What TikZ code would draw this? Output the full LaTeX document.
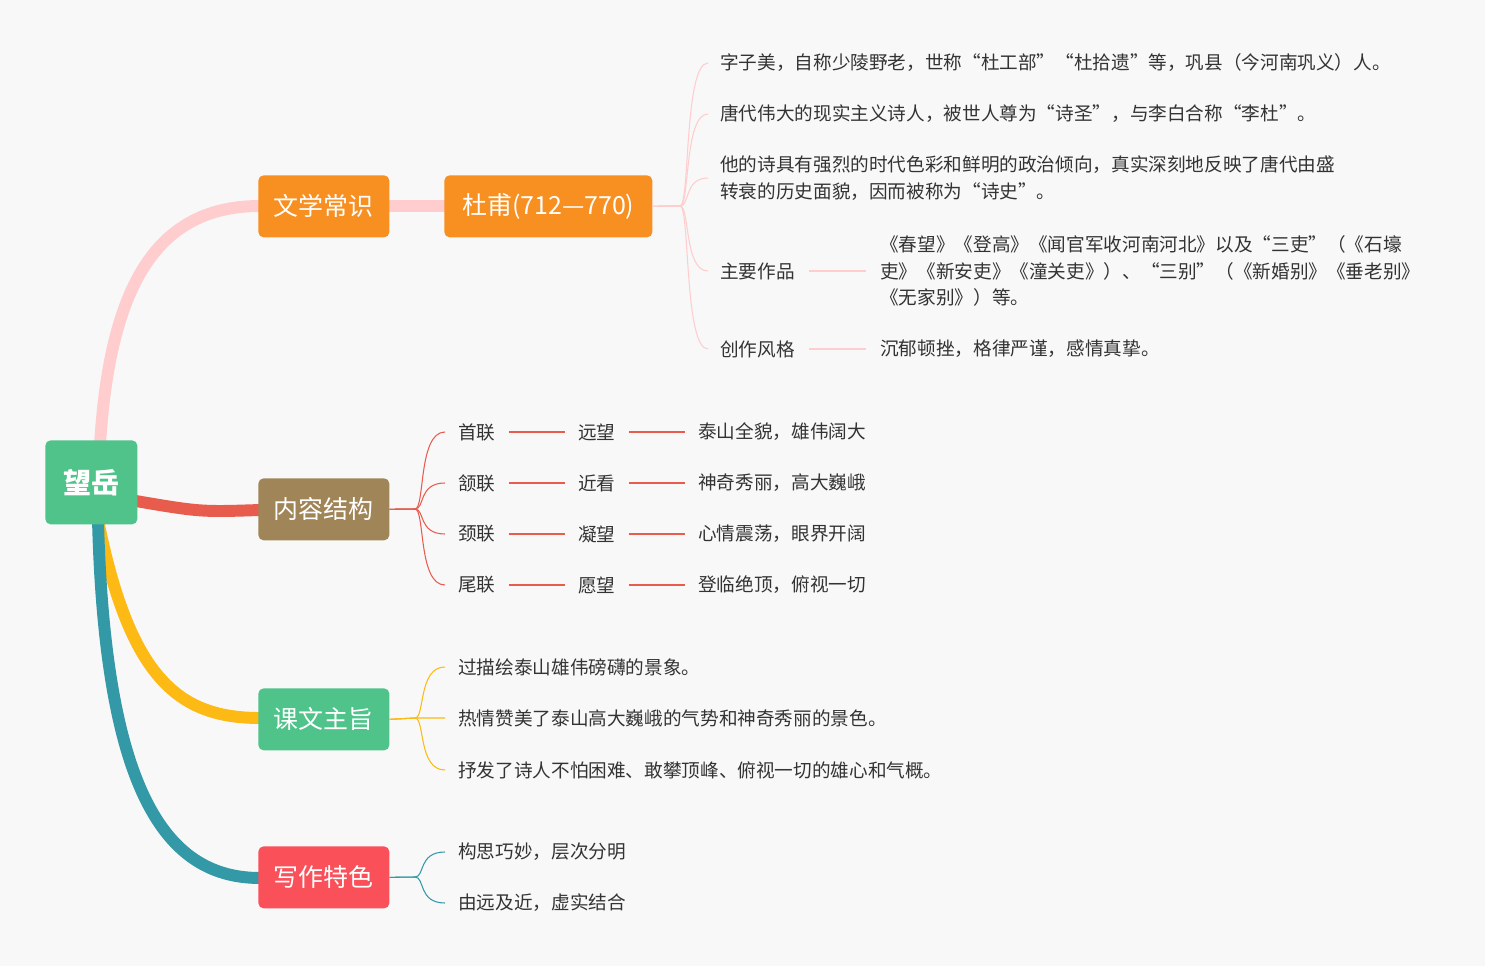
\documentclass[tikz,border=0pt]{standalone}
\usepackage{fontspec}
\setmainfont{Noto Sans CJK SC}
\begin{document}
\begin{tikzpicture}[x=0.02cm,y=-0.02cm,
  box/.style={rounded corners=3pt,text=white,font=\fontsize{14.2}{16}\selectfont,inner sep=0pt,anchor=north west},
  leaf/.style={anchor=west,inner sep=0pt,text=black!80,font=\fontsize{10.6}{15.3}\selectfont,align=left},
  thin/.style={line width=0.6pt},
  thick/.style={line width=6.8pt}]
\definecolor{bg}{HTML}{F8F8F8}
\definecolor{pinkc}{HTML}{FFCDCD}
\definecolor{orangec}{HTML}{F78F21}
\definecolor{brownc}{HTML}{A08558}
\definecolor{greenc}{HTML}{50C38B}
\definecolor{redc}{HTML}{FA505A}
\definecolor{redl}{HTML}{E85C4E}
\definecolor{yelc}{HTML}{FDB914}
\definecolor{tealc}{HTML}{3499A6}
\fill[bg] (0,0) rectangle (1485,966);
\useasboundingbox (0,0) rectangle (1485,966);
% main connectors
\coordinate (rt) at (100,445);
\coordinate (rb) at (98,520);
\draw[thick,pinkc] (rt) .. controls (110,280) and (160,206) .. (260,206);
\draw[thick,redl] (130,500) .. controls (200,512) .. (260,510);
\draw[thick,yelc] (rb) .. controls (130,680) and (180,718) .. (260,718);
\draw[thick,tealc] (rb) .. controls (105,800) and (170,878) .. (260,878);
\draw[thick,pinkc,line cap=round] (385,206) -- (448,206);
% boxes
\node[box,fill=greenc,minimum width=92*0.02cm,minimum height=84*0.02cm,font=\fontsize{16}{18}\selectfont\bfseries] (root) at (45,440) {望岳};
\node[box,fill=orangec,minimum width=131*0.02cm,minimum height=62*0.02cm] (wx) at (258,175) {文学常识};
\node[box,fill=orangec,minimum width=208*0.02cm,minimum height=62*0.02cm] (df) at (444,175) {杜甫(712—770)};
\node[box,fill=brownc,minimum width=131*0.02cm,minimum height=62*0.02cm] (nr) at (258,478) {内容结构};
\node[box,fill=greenc,minimum width=131*0.02cm,minimum height=62*0.02cm] (kw) at (258,688) {课文主旨};
\node[box,fill=redc,minimum width=131*0.02cm,minimum height=62*0.02cm] (xz) at (258,846) {写作特色};
% Du Fu leaves
\node[leaf] (d1) at (720,63) {字子美，自称少陵野老，世称“杜工部”“杜拾遗”等，巩县（今河南巩义）人。};
\node[leaf] (d2) at (720,114) {唐代伟大的现实主义诗人，被世人尊为“诗圣”，与李白合称“李杜”。};
\node[leaf] (d3) at (720,178) {他的诗具有强烈的时代色彩和鲜明的政治倾向，真实深刻地反映了唐代由盛\\转衰的历史面貌，因而被称为“诗史”。};
\node[leaf] (d4) at (720,271) {主要作品};
\node[leaf] (d5) at (720,349) {创作风格};
\node[leaf] (w1) at (880,271) {《春望》《登高》《闻官军收河南河北》以及“三吏”（《石壕\\吏》《新安吏》《潼关吏》）、“三别”（《新婚别》《垂老别》\\《无家别》）等。};
\node[leaf] (w2) at (880,349) {沉郁顿挫，格律严谨，感情真挚。};
\foreach \n/\y in {d1/63,d2/114,d3/178,d4/271,d5/349}
  \draw[thin,pinkc] (df.east) -- (680,206) .. controls (690,206) and (684,\y) .. (708,\y);
\draw[thin,pinkc] (d4.east) ++(14,0) -- (866,271);
\draw[thin,pinkc] (d5.east) ++(14,0) -- (866,349);
% content structure
\foreach \a/\b/\c/\y [count=\i] in {首联/远望/泰山全貌，雄伟阔大/432,颔联/近看/神奇秀丽，高大巍峨/483,颈联/凝望/心情震荡，眼界开阔/534,尾联/愿望/登临绝顶，俯视一切/585}{
  \node[leaf] (a\i) at (458,\y) {\a};
  \node[leaf] (b\i) at (578,\y) {\b};
  \node[leaf] (c\i) at (698,\y) {\c};
  \draw[thin,redl,shorten <=7.4pt, shorten >=7.4pt] (a\i.east) -- (b\i.west);
  \draw[thin,redl,shorten <=7.4pt, shorten >=7.4pt] (b\i.east) -- (c\i.west);
  \draw[thin,redl] (nr.east) -- (415,509) .. controls (425,509) and (418,\y) .. (445,\y);
}
% theme
\node[leaf] (k1) at (458,667) {过描绘泰山雄伟磅礴的景象。};
\node[leaf] (k2) at (458,718) {热情赞美了泰山高大巍峨的气势和神奇秀丽的景色。};
\node[leaf] (k3) at (458,770) {抒发了诗人不怕困难、敢攀顶峰、俯视一切的雄心和气概。};
\foreach \y in {667,718,770}
  \draw[thin,yelc] (kw.east) -- (415,718) .. controls (425,718) and (418,\y) .. (445,\y);
% writing
\node[leaf] (x1) at (458,852) {构思巧妙，层次分明};
\node[leaf] (x2) at (458,903) {由远及近，虚实结合};
\foreach \y in {852,903}
  \draw[thin,tealc] (xz.east) -- (415,877) .. controls (425,877) and (418,\y) .. (445,\y);
\end{tikzpicture}
\end{document}
